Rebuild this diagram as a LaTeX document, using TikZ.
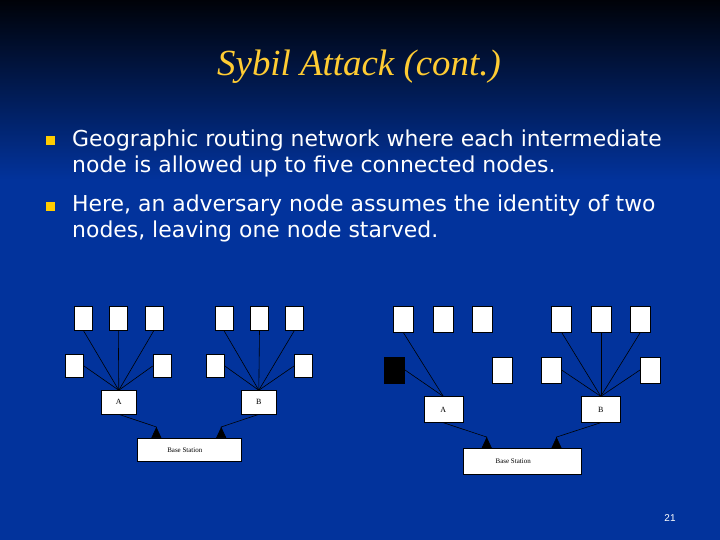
\documentclass[tikz,border=0pt]{standalone}
\usepackage{fontspec}
\setmainfont{Liberation Serif}
\newfontfamily\bodyfont{DejaVu Sans}
\newfontfamily\numfont{Liberation Sans}
\usepackage{xcolor}
\definecolor{cTop}{HTML}{000208}
\definecolor{cMid}{HTML}{08205E}
\definecolor{cBlue}{HTML}{02339C}
\definecolor{cTitle}{HTML}{FFCC33}
\definecolor{cBullet}{HTML}{FFCC00}
\usepackage{tikz}
\usetikzlibrary{positioning,arrows.meta,calc}
\tikzset{
  node-leaf/.style={draw=black,fill=white,line width=0.6bp,inner sep=0pt,
    minimum width=18bp,minimum height=23.5bp},
  node-leaf-big/.style={node-leaf,minimum width=20bp,minimum height=26bp},
  node-sybil/.style={node-leaf-big,fill=black},
  node-hub/.style={node-leaf,minimum width=35bp,font=\fontsize{8}{9}\selectfont},
  node-hub-big/.style={node-hub,minimum width=39bp,minimum height=25.7bp},
  node-base/.style={node-leaf,minimum width=104bp,font=\fontsize{7}{8}\selectfont},
  node-base-big/.style={node-base,minimum width=117.7bp,minimum height=25.7bp},
  node-bullet/.style={fill=cBullet,minimum size=9bp,inner sep=0pt},
  % body text of the slide (base = last line)
  node-text/.style={anchor=base west,align=left,text=white,inner sep=0pt,
    font=\bodyfont\fontsize{22}{26.5}\selectfont},
  link/.style={draw=black,line width=0.6bp},
  arrow-up/.style={link,-{Triangle[reversed,length=11bp,width=10bp]}},
}

\begin{document}
\begin{tikzpicture}[x=1bp,y=-1bp]
  \useasboundingbox (0,0) rectangle (720,540);
  % background
  \shade[top color=cTop,middle color=cMid,bottom color=cBlue] (0,0) rectangle (720,180);
  \fill[cBlue] (0,180) rectangle (720,540);

  \node[anchor=base,text=cTitle,font=\fontsize{37}{40}\selectfont\itshape] (title) at (359,76) {Sybil Attack (cont.)};

  \node[node-bullet] (bul1) at (50,141) {};
  \node[node-bullet] (bul2) at (50,206.5) {};
  \node[node-text] (txt1) at (72,173) {Geographic routing network where each intermediate\\node is allowed up to five connected nodes.};
  \node[node-text] (txt2) at (72,238) {Here, an adversary node assumes the identity of two\\nodes, leaving one node starved.};

  % normal network
  \node[node-leaf] (lt1) at (83.3,318.3) {};
  \node[node-leaf] (lt2) at (118.3,318.3) {};
  \node[node-leaf] (lt3) at (154,318.3) {};
  \node[node-leaf] (lm1) at (74.7,366) {};
  \node[node-leaf] (lm2) at (162,366) {};
  \node[node-hub] (lA) at (118.8,402.3) {A};
  \node[node-leaf] (lt4) at (223.8,318.3) {};
  \node[node-leaf] (lt5) at (259.5,318.3) {};
  \node[node-leaf] (lt6) at (294.5,318.3) {};
  \node[node-leaf] (lm3) at (215.5,366) {};
  \node[node-leaf] (lm4) at (303.3,366) {};
  \node[node-hub] (lB) at (258.8,402.3) {B};
  \node[node-base] (lbase) at (188.8,450) {Base Station\hspace*{8bp}};
  \draw[link] (lt1.south) -- (lA.north);
  \draw[link] (lt2.south) -- (lA.north);
  \draw[link] (lt3.south) -- (lA.north);
  \draw[link] (lm1.east) -- (lA.north);
  \draw[link] (lm2.west) -- (lA.north);
  \draw[link] (lt4.south) -- (lB.north);
  \draw[link] (lt5.south) -- (lB.north);
  \draw[link] (lt6.south) -- (lB.north);
  \draw[link] (lm3.east) -- (lB.north);
  \draw[link] (lm4.west) -- (lB.north);
  \coordinate (lendA) at ($(lbase.north west)!0.19!(lbase.north east)$);
  \coordinate (lendB) at ($(lbase.north west)!0.81!(lbase.north east)$);
  \draw[arrow-up] (lA.south) -- ($(lendA)+(0,-11)$) -- (lendA);
  \draw[arrow-up] (lB.south) -- ($(lendB)+(0,-11)$) -- (lendB);

  % network with the sybil node
  \node[node-leaf-big] (rt1) at (403.3,319.2) {};
  \node[node-leaf-big] (rt2) at (443.3,319.2) {};
  \node[node-leaf-big] (rt3) at (482.3,319.2) {};
  \node[node-sybil] (rm1) at (394.7,370) {};
  \node[node-leaf-big] (rm2) at (502.3,370) {};
  \node[node-hub-big] (rA) at (443.3,409.5) {A};
  \node[node-leaf-big] (rt4) at (561.7,319.2) {};
  \node[node-leaf-big] (rt5) at (600.8,319.2) {};
  \node[node-leaf-big] (rt6) at (640.3,319.2) {};
  \node[node-leaf-big] (rm3) at (551.3,370) {};
  \node[node-leaf-big] (rm4) at (650.3,370) {};
  \node[node-hub-big] (rB) at (600.8,409.5) {B};
  \node[node-base-big] (rbase) at (522.2,461.2) {Base Station\hspace*{18bp}};
  \draw[link] (rt1.south) -- (rA.north);
  \draw[link] (rm1.east) -- (rA.north);
  \draw[link] (rt4.south) -- (rB.north);
  \draw[link] (rt5.south) -- (rB.north);
  \draw[link] (rt6.south) -- (rB.north);
  \draw[link] (rm3.east) -- (rB.north);
  \draw[link] (rm4.west) -- (rB.north);
  \coordinate (rendA) at ($(rbase.north west)!0.2!(rbase.north east)$);
  \coordinate (rendB) at ($(rbase.north west)!0.79!(rbase.north east)$);
  \draw[arrow-up] (rA.south) -- ($(rendA)+(0,-11)$) -- (rendA);
  \draw[arrow-up] (rB.south) -- ($(rendB)+(0,-11)$) -- (rendB);

  \node[text=white,font=\numfont\fontsize{10}{12}\selectfont] (pgno) at (670,518) {21};
\end{tikzpicture}
\end{document}
